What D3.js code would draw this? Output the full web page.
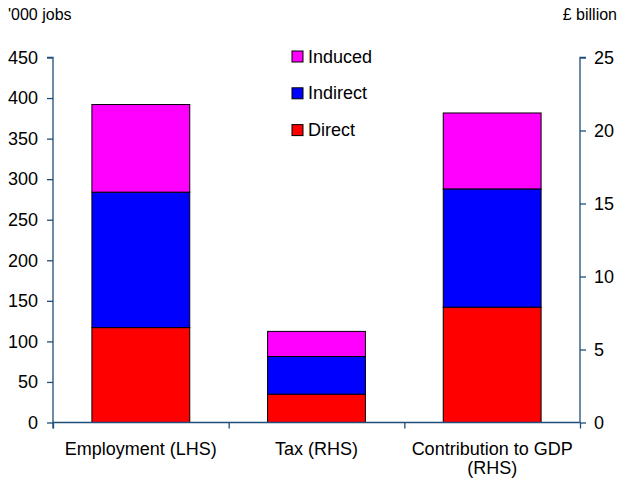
<!DOCTYPE html>
<html><head><meta charset="utf-8">
<script src="https://cdn.jsdelivr.net/npm/d3@7"></script>
<style>
html,body{margin:0;padding:0;background:#fff;}
text{font-family:"Liberation Sans",Arial,sans-serif;fill:#000;}
</style></head>
<body><svg id="c" width="619" height="481"></svg>
<script>
const categories = ["Employment (LHS)", "Tax (RHS)", "Contribution to GDP (RHS)"];
const categoryLines = [["Employment (LHS)"], ["Tax (RHS)"], ["Contribution to GDP", "(RHS)"]];
const axisSide = ["left", "right", "right"];
const direct   = [117, 1.94, 7.9];
const indirect = [167, 2.58, 8.1];
const induced  = [108, 1.72, 5.2];
const seriesNames = ["Direct", "Indirect", "Induced"];
const seriesColors = ["#FF0000", "#0000FF", "#FF00FF"];
const leftTicks = [0, 50, 100, 150, 200, 250, 300, 350, 400, 450];
const rightTicks = [0, 5, 10, 15, 20, 25];
const leftTitle = "'000 jobs";
const rightTitle = "£ billion";

const svg = d3.select("#c");
const m = {l: 53, r: 580, t: 57.5, b: 422.5};
const axisColor = "#1F4E79";

const x = d3.scaleBand().domain(categories).range([m.l, m.r]).paddingInner(0.443).paddingOuter(0.2215);
const yL = d3.scaleLinear().domain([0, 450]).range([m.b, m.t]);
const yR = d3.scaleLinear().domain([0, 25]).range([m.b, m.t]);

const table = categories.map((c, i) => ({cat: c, side: axisSide[i], Direct: direct[i], Indirect: indirect[i], Induced: induced[i]}));
const stack = d3.stack().keys(seriesNames)(table);

stack.forEach((s, si) => {
  svg.append("g").selectAll("rect").data(s).join("rect")
    .attr("x", d => x(d.data.cat))
    .attr("width", x.bandwidth())
    .attr("y", d => (d.data.side === "left" ? yL : yR)(d[1]))
    .attr("height", d => { const y = d.data.side === "left" ? yL : yR; return y(d[0]) - y(d[1]); })
    .attr("fill", seriesColors[si])
    .attr("stroke", "#000").attr("stroke-width", 1);
});

// left axis
const gL = svg.append("g").attr("transform", `translate(${m.l},0)`)
  .call(d3.axisLeft(yL).tickValues(leftTicks).tickSize(6).tickPadding(9));
// right axis
const gR = svg.append("g").attr("transform", `translate(${m.r},0)`)
  .call(d3.axisRight(yR).tickValues(rightTicks).tickSize(6).tickPadding(8));
// bottom axis with ticks between categories
const xEdges = d3.scaleLinear().domain([0, categories.length]).range([m.l, m.r]);
const gB = svg.append("g").attr("transform", `translate(0,${m.b})`)
  .call(d3.axisBottom(xEdges).tickValues(d3.range(categories.length + 1)).tickSize(6).tickFormat(""));
[gL, gR, gB].forEach(g => {
  g.selectAll("path.domain").attr("stroke", axisColor).attr("stroke-width", 1.3);
  g.selectAll(".tick line").attr("stroke", axisColor).attr("stroke-width", 1.3);
  g.selectAll(".tick text").attr("font-size", 18).attr("font-family", '"Liberation Sans",Arial,sans-serif').attr("fill", "#000");
});
gL.select("path.domain").attr("d", `M-6,${m.t}H0V${m.b + 6}`);
gR.select("path.domain").attr("d", `M6,${m.t}H0V${m.b}`);
gB.select("path.domain").attr("d", `M${m.l},0H${m.r}`);

// category labels
categoryLines.forEach((lines, i) => {
  const t = svg.append("text").attr("text-anchor", "middle").attr("font-size", 18)
    .attr("x", x(categories[i]) + x.bandwidth() / 2).attr("y", 455);
  lines.forEach((ln, j) => t.append("tspan").attr("x", x(categories[i]) + x.bandwidth() / 2).attr("dy", j === 0 ? 0 : 19).text(ln));
});

// titles
svg.append("text").attr("x", 8).attr("y", 20).attr("font-size", 16).text(leftTitle);
svg.append("text").attr("x", 617).attr("y", 20).attr("font-size", 16).attr("text-anchor", "end").text(rightTitle);

// legend
const legendOrder = ["Induced", "Indirect", "Direct"];
legendOrder.forEach((name, i) => {
  const ci = seriesNames.indexOf(name);
  const yy = 51 + i * 36.8;
  svg.append("rect").attr("x", 292).attr("y", yy).attr("width", 11).attr("height", 11)
    .attr("fill", seriesColors[ci]).attr("stroke", "#000").attr("stroke-width", 1);
  svg.append("text").attr("x", 308).attr("y", yy + 11.5).attr("font-size", 18).text(name);
});
</script></body></html>
